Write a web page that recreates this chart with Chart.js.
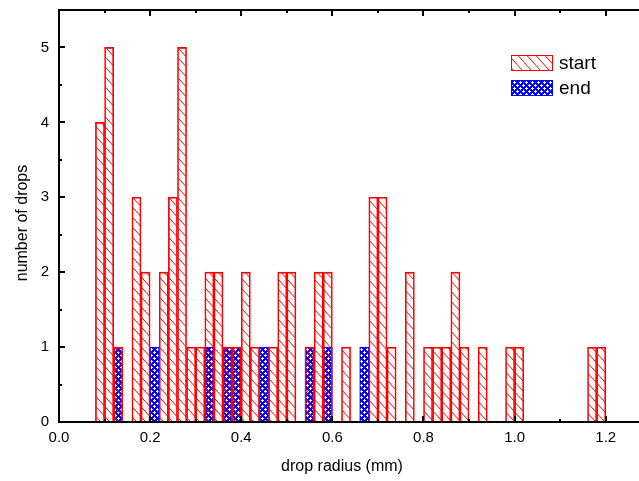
<!DOCTYPE html>
<html>
<head>
<meta charset="utf-8">
<script src="https://cdn.jsdelivr.net/npm/chart.js@4/dist/chart.umd.min.js"></script>
<style>
  html, body { margin: 0; padding: 0; background: #fff; }
  #wrap { width: 639px; height: 481px; }
</style>
</head>
<body>
<div id="wrap"><canvas id="dropChart" width="639" height="481"></canvas></div>
<script>
// histogram bins are 0.02 mm wide, values are the bin centres
const startRadius = [0.09, 0.11, 0.13, 0.17, 0.19, 0.23, 0.25, 0.27, 0.29, 0.31, 0.33, 0.35, 0.37, 0.39,
  0.41, 0.43, 0.47, 0.49, 0.51, 0.55, 0.57, 0.59, 0.63, 0.69, 0.71, 0.73, 0.77, 0.81, 0.83, 0.85,
  0.87, 0.89, 0.93, 0.99, 1.01, 1.17, 1.19];
const startCounts = [4, 5, 1, 3, 2, 2, 3, 5, 1, 1, 2, 2, 1, 1,
  2, 1, 1, 2, 2, 1, 2, 2, 1, 3, 3, 1, 2, 1, 1, 1,
  2, 1, 1, 1, 1, 1, 1];
const endRadius = [0.13, 0.21, 0.33, 0.37, 0.39, 0.45, 0.55, 0.59, 0.67];
const endCounts = [1, 1, 1, 1, 1, 1, 1, 1, 1];

const xTicks = [0, 0.2, 0.4, 0.6, 0.8, 1.0, 1.2];
const xMinorTicks = [0.1, 0.3, 0.5, 0.7, 0.9, 1.1];
const yTicks = [0, 1, 2, 3, 4, 5];
const yMinorTicks = [0.5, 1.5, 2.5, 3.5, 4.5];

const xTitle = "drop radius (mm)";
const yTitle = "number of drops";
const fontFamily = "'Liberation Sans', Arial, sans-serif";

document.addEventListener("DOMContentLoaded", function () {
  const canvas = document.getElementById("dropChart");

  // red diagonal hatch, transparent background
  function makeHatch() {
    const tile = document.createElement("canvas");
    tile.width = 9;
    tile.height = 10;
    const t = tile.getContext("2d");
    t.strokeStyle = "#ff0000";
    t.lineWidth = 1;
    [-9, 0, 9].forEach(function (dx) {
      t.beginPath();
      t.moveTo(dx, 0);
      t.lineTo(dx + 9, 10);
      t.stroke();
    });
    return t.createPattern(tile, "repeat");
  }

  // blue cross hatch with small white dots
  function makeCross() {
    const tile = document.createElement("canvas");
    tile.width = 6;
    tile.height = 6;
    const t = tile.getContext("2d");
    t.fillStyle = "#0000ff";
    t.fillRect(0, 0, 6, 6);
    t.fillStyle = "#ffffff";
    [[1, 1], [4, 4]].forEach(function (p) {
      t.fillRect(p[0], p[1] - 1, 1, 3);
      t.fillRect(p[0] - 1, p[1], 3, 1);
    });
    return t.createPattern(tile, "repeat");
  }

  const hatch = makeHatch();
  const cross = makeCross();

  const frame = {
    id: "frame",
    afterDraw(chart) {
      const ctx = chart.ctx;
      const a = chart.chartArea;
      const x = chart.scales.x;
      const y = chart.scales.y;
      ctx.save();
      ctx.strokeStyle = "#000";
      ctx.lineWidth = 2;
      // left, bottom and top lines; the right side falls off the picture
      ctx.beginPath();
      ctx.moveTo(a.right + 2, a.top);
      ctx.lineTo(a.left, a.top);
      ctx.lineTo(a.left, a.bottom);
      ctx.lineTo(a.right + 2, a.bottom);
      ctx.stroke();

      // inward ticks
      function tickX(v, len) {
        const px = Math.round(x.getPixelForValue(v));
        ctx.beginPath();
        ctx.moveTo(px, a.bottom);
        ctx.lineTo(px, a.bottom - len);
        ctx.moveTo(px, a.top);
        ctx.lineTo(px, a.top + len);
        ctx.stroke();
      }
      function tickY(v, len) {
        const py = Math.round(y.getPixelForValue(v));
        ctx.beginPath();
        ctx.moveTo(a.left, py);
        ctx.lineTo(a.left + len, py);
        ctx.stroke();
      }
      xTicks.forEach(function (v) { tickX(v, 6); });
      xMinorTicks.forEach(function (v) { tickX(v, 3); });
      yTicks.forEach(function (v) { tickY(v, 6); });
      yMinorTicks.forEach(function (v) { tickY(v, 3); });

      // axis titles
      ctx.fillStyle = "#000";
      ctx.font = "16px " + fontFamily;
      ctx.textAlign = "center";
      ctx.textBaseline = "middle";
      ctx.fillText(xTitle, 342, 467);
      ctx.save();
      ctx.translate(23, 223);
      ctx.rotate(-Math.PI / 2);
      ctx.fillText(yTitle, 0, 0);
      ctx.restore();

      // legend in the upper right
      const sets = chart.data.datasets;
      ctx.font = "19px " + fontFamily;
      ctx.textAlign = "left";
      [55, 80].forEach(function (top, i) {
        const ds = sets[i];
        ctx.fillStyle = "#fff";
        ctx.fillRect(511, top, 42, 16);
        ctx.fillStyle = ds.backgroundColor;
        ctx.fillRect(511, top, 42, 16);
        ctx.strokeStyle = ds.borderColor;
        ctx.lineWidth = 1;
        ctx.strokeRect(511.5, top + 0.5, 41, 15);
        ctx.fillStyle = "#000";
        ctx.fillText(ds.label, 559, top + 9);
      });
      ctx.restore();
    }
  };

  new Chart(canvas, {
    type: "bar",
    data: {
      datasets: [
        {
          label: "start",
          data: startRadius.map(function (r, i) { return { x: r, y: startCounts[i] }; }),
          backgroundColor: hatch,
          borderColor: "#ff0000",
          borderWidth: 1,
        },
        {
          label: "end",
          data: endRadius.map(function (r, i) { return { x: r, y: endCounts[i] }; }),
          backgroundColor: cross,
          borderColor: "#0000ff",
          borderWidth: 1,
        },
      ],
    },
    options: {
      responsive: false,
      animation: false,
      grouped: false,
      barPercentage: 1,
      categoryPercentage: 1,
      layout: { padding: { top: 10, right: 0, left: 0, bottom: 0 } },
      plugins: {
        legend: { display: false },
        tooltip: { enabled: false },
      },
      scales: {
        x: {
          type: "linear",
          min: 0,
          max: 1.273,
          offset: false,
          grid: { display: false, drawTicks: false },
          border: { display: false },
          afterBuildTicks: function (s) { s.ticks = xTicks.map(function (v) { return { value: v }; }); },
          afterFit: function (s) {
            s.height = 59;
            s.paddingLeft = 0;
            s.paddingRight = 0;
          },
          ticks: {
            padding: 7,
            color: "#000",
            font: { family: fontFamily, size: 15 },
            callback: function (v) { return Number(v).toFixed(1); },
          },
        },
        y: {
          min: 0,
          max: 5.5,
          grid: { display: false, drawTicks: false },
          border: { display: false },
          afterBuildTicks: function (s) { s.ticks = yTicks.map(function (v) { return { value: v }; }); },
          afterFit: function (s) {
            s.width = 59;
            s.paddingTop = 0;
            s.paddingBottom = 0;
          },
          ticks: {
            padding: 10,
            color: "#000",
            font: { family: fontFamily, size: 15 },
          },
        },
      },
    },
    plugins: [frame],
  });
});
</script>
</body>
</html>
